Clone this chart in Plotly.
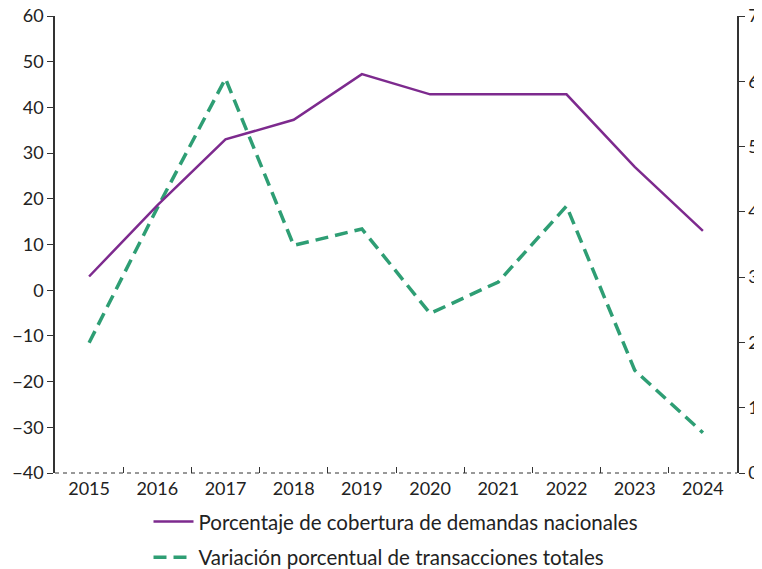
import plotly.graph_objects as go

years = ["2015", "2016", "2017", "2018", "2019", "2020", "2021", "2022", "2023", "2024"]
cobertura = [30.1, 41.0, 51.1, 54.1, 61.1, 58.0, 58.0, 58.0, 46.9, 37.1]
variacion = [-11.5, 18.0, 46.3, 9.8, 13.4, -5.1, 1.8, 18.4, -17.5, -31.2]
left_ticks = [-40, -30, -20, -10, 0, 10, 20, 30, 40, 50, 60]
right_ticks = [0, 10, 20, 30, 40, 50, 60, 70]

PURPLE = "#7d2a8e"
GREEN = "#2e9e74"
FONT = "Lato"
TXT = "#222222"

fig = go.Figure()
fig.add_trace(go.Scatter(
    x=years, y=cobertura, mode="lines", name="Porcentaje de cobertura de demandas nacionales",
    line=dict(color=PURPLE, width=2.5), yaxis="y2", xaxis="x", legendgroup="a"))
fig.add_trace(go.Scatter(
    x=years, y=variacion, mode="lines", name="Variación porcentual de transacciones totales",
    line=dict(color=GREEN, width=3.5, dash="13px,7px"), yaxis="y", xaxis="x", legendgroup="b"))

fig.update_layout(
    width=762, height=569,
    margin=dict(l=47, r=33, t=8, b=104, autoexpand=False),
    paper_bgcolor="white", plot_bgcolor="white",
    font=dict(family=FONT, size=18, color=TXT),
    showlegend=True,
    legend=dict(orientation="v", x=0.5, xanchor="center", y=-0.063, yanchor="top",
                font=dict(size=20.5, color=TXT), itemwidth=40, tracegroupgap=6),
    xaxis=dict(type="category", categoryorder="array", categoryarray=years,
               range=[-0.5, 9.5], automargin=False,
               showline=False, showgrid=False, zeroline=False,
               ticks="inside", tickson="boundaries", ticklen=6, tickcolor="#333",
               ticklabelstandoff=3, ticklabeloverflow="allow",
               tickfont=dict(size=18, color=TXT), anchor="y"),
    xaxis2=dict(overlaying="x", anchor="free", position=0.4, range=[-0.5, 9.5],
                tickvals=[i + 0.5 for i in range(len(years) - 1)],
                showticklabels=False, ticks="outside", ticklen=6, tickcolor="#222",
                showline=True, linecolor="#111", linewidth=1.5, showgrid=False, zeroline=False),
    yaxis=dict(range=[-40, 60], tickvals=left_ticks, showgrid=False, zeroline=False,
               automargin=False, ticklabeloverflow="allow",
               showline=True, linecolor="#333", linewidth=1.5, ticks="outside", ticklen=6,
               tickcolor="#333", tickfont=dict(size=18, color=TXT)),
    yaxis2=dict(range=[0, 70], tickvals=right_ticks, overlaying="y", side="right",
                automargin=False, ticklabeloverflow="allow",
                showgrid=False, zeroline=False, showline=True, linecolor="#333", linewidth=1.5,
                ticks="outside", ticklen=6, tickcolor="#333", tickfont=dict(size=18, color=TXT)),
)

# dashed baseline of the category axis
fig.add_shape(type="line", xref="paper", yref="paper", x0=0, x1=1, y0=0, y1=0,
              line=dict(color="#333", width=1, dash="4px,4px"))

fig.write_html("out.html")
